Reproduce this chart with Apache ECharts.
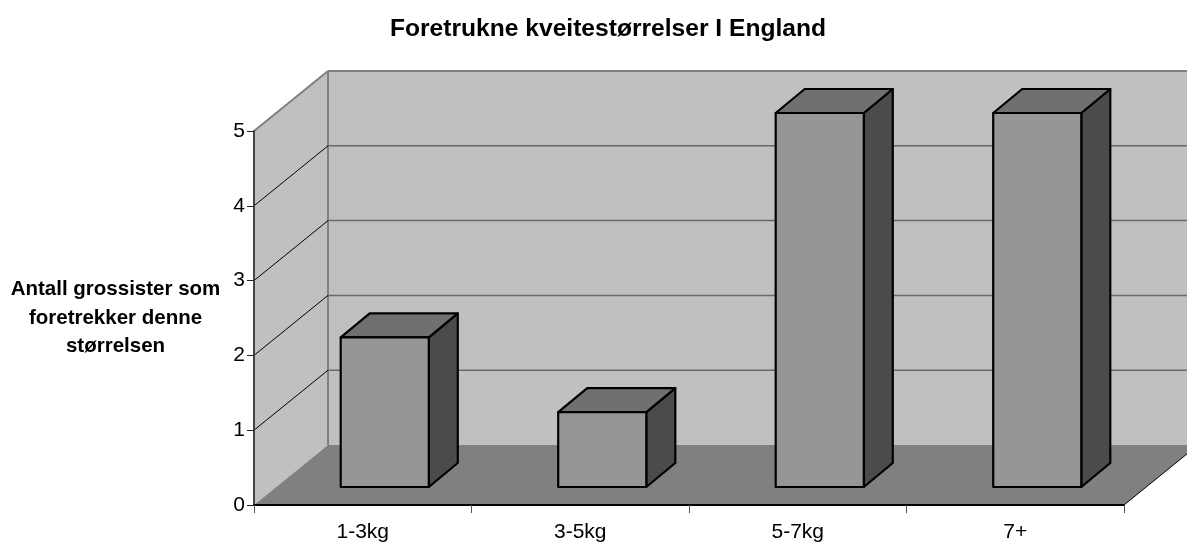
<!DOCTYPE html>
<html>
<head>
<meta charset="utf-8">
<style>html,body{margin:0;padding:0;background:#fff}#chart{width:1187px;height:543px}</style>
<script src="https://cdn.jsdelivr.net/npm/echarts@6/dist/echarts.min.js"></script>
</head>
<body>
<div id="chart"></div>
<script>
const titleText = 'Foretrukne kveitestørrelser I England';
const yAxisTitle = 'Antall grossister som\nforetrekker denne\nstørrelsen';
const categories = ['1-3kg', '3-5kg', '5-7kg', '7+'];
const wholesalers = [2, 1, 5, 5];
const yTicks = [0, 1, 2, 3, 4, 5];

// Pseudo-3D projection, in pixels
const WALL_DX = 74, WALL_DY = -60;   // front plane to back wall
const BAR_DX = 22, BAR_DY = -18;     // front plane to bar front
const DEPTH_DX = 29, DEPTH_DY = -24; // bar front to bar back
const BAR_SHARE = 0.405;             // bar width relative to category band

const chart = echarts.init(document.getElementById('chart'), null, {renderer: 'canvas'});

function poly(points, fill, stroke, lineWidth) {
  return {
    type: 'polygon',
    shape: {points},
    style: {fill, stroke: stroke || 'none', lineWidth: lineWidth || 0, lineJoin: 'round'}
  };
}
function line(x1, y1, x2, y2, stroke, lineWidth) {
  return {
    type: 'line',
    shape: {x1, y1, x2, y2},
    style: {stroke, lineWidth, fill: 'none'}
  };
}

// Side wall, back wall and floor, plus one pair of gridlines per tick
function renderRoom(params, api) {
  const cs = params.coordSys;
  const left = cs.x, right = cs.x + cs.width;
  const y = api.coord([0, api.value(1)])[1];
  const y0 = api.coord([0, 0])[1];
  const yTop = api.coord([0, yTicks[yTicks.length - 1]])[1];
  const children = [];
  if (params.dataIndex === 0) {
    children.push(
      poly([[left + WALL_DX, yTop + WALL_DY], [right + WALL_DX, yTop + WALL_DY],
            [right + WALL_DX, y0 + WALL_DY], [left + WALL_DX, y0 + WALL_DY]], '#c0c0c0'),
      poly([[left, yTop], [left + WALL_DX, yTop + WALL_DY],
            [left + WALL_DX, y0 + WALL_DY], [left, y0]], '#c0c0c0'),
      poly([[left, y0], [left + WALL_DX, y0 + WALL_DY],
            [right + WALL_DX, y0 + WALL_DY], [right, y0]], '#808080'),
      line(left + WALL_DX, yTop + WALL_DY, right + WALL_DX, yTop + WALL_DY, '#808080', 2),
      line(left, yTop, left + WALL_DX, yTop + WALL_DY, '#808080', 2),
      line(left + WALL_DX, yTop + WALL_DY, left + WALL_DX, y0 + WALL_DY, '#808080', 2),
      line(right, y0, right + WALL_DX, y0 + WALL_DY, '#000000', 1)
    );
  } else if (api.value(1) < yTicks[yTicks.length - 1]) {
    children.push(
      line(left, y, left + WALL_DX, y + WALL_DY, '#000000', 1),
      line(left + WALL_DX, y + WALL_DY, right + WALL_DX, y + WALL_DY, '#686868', 1.5)
    );
  }
  return {type: 'group', children};
}

// One box: side, top and front faces
function renderBar(params, api) {
  const idx = api.value(0);
  const base = api.coord([idx, 0]);
  const top = api.coord([idx, api.value(1)]);
  const half = api.size([1, 0])[0] * BAR_SHARE / 2;
  const xL = base[0] - half + BAR_DX, xR = base[0] + half + BAR_DX;
  const yB = base[1] + BAR_DY, yT = top[1] + BAR_DY;
  const bx = DEPTH_DX, by = DEPTH_DY;
  return {
    type: 'group',
    children: [
      poly([[xR, yT], [xR + bx, yT + by], [xR + bx, yB + by], [xR, yB]], '#4b4b4b', '#000', 2.2),
      poly([[xL, yT], [xL + bx, yT + by], [xR + bx, yT + by], [xR, yT]], '#707070', '#000', 2.2),
      poly([[xL, yT], [xR, yT], [xR, yB], [xL, yB]], '#969696', '#000', 2.2)
    ]
  };
}

chart.setOption({
  animation: false,
  backgroundColor: '#ffffff',
  textStyle: {fontFamily: '"Liberation Sans", Arial, sans-serif'},
  title: {
    text: titleText,
    left: 603,
    top: 12,
    textAlign: 'center',
    textStyle: {fontSize: 24.6, fontWeight: 'bold', color: '#000', fontFamily: '"Liberation Sans", Arial, sans-serif'}
  },
  graphic: [{
    type: 'text',
    x: 115.5,
    y: 318,
    style: {
      text: yAxisTitle,
      align: 'center',
      verticalAlign: 'middle',
      fontSize: 20.5,
      lineHeight: 28.5,
      fontWeight: 'bold',
      fontFamily: '"Liberation Sans", Arial, sans-serif',
      fill: '#000'
    }
  }],
  grid: {left: 254, right: 63, top: 131, bottom: 38},
  xAxis: {
    type: 'category',
    data: categories,
    z: 6,
    axisLine: {lineStyle: {color: '#000', width: 2}},
    axisTick: {show: true, alignWithLabel: false, length: 8, lineStyle: {color: '#555', width: 1}},
    axisLabel: {color: '#000', fontSize: 21, margin: 17, fontFamily: '"Liberation Sans", Arial, sans-serif'},
    splitLine: {show: false}
  },
  yAxis: {
    type: 'value',
    min: 0,
    max: 5,
    interval: 1,
    z: 6,
    axisLine: {show: true, lineStyle: {color: '#444', width: 2}},
    axisTick: {show: true, length: 7, lineStyle: {color: '#222', width: 1}},
    axisLabel: {color: '#000', fontSize: 21, margin: 9, fontFamily: '"Liberation Sans", Arial, sans-serif'},
    splitLine: {show: false}
  },
  series: [
    {
      name: 'room',
      type: 'custom',
      z: 1,
      silent: true,
      renderItem: renderRoom,
      data: yTicks.map(v => [0, v])
    },
    {
      name: 'Antall grossister',
      type: 'custom',
      z: 8,
      renderItem: renderBar,
      encode: {x: 0, y: 1},
      data: wholesalers.map((v, i) => [i, v])
    }
  ]
});
</script>
</body>
</html>
